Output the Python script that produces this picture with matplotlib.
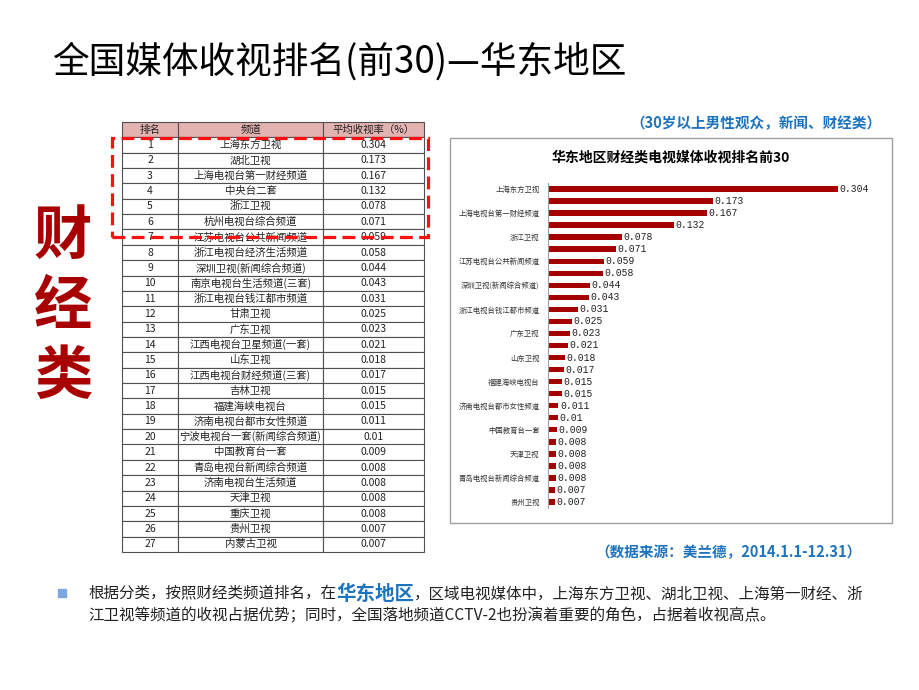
import matplotlib.pyplot as plt
from matplotlib.patches import Rectangle

plt.rcParams['font.family'] = ['Noto Sans CJK SC', 'DejaVu Sans']

# table data (rank, channel, rating)
ranks = list(range(1, 28))
channels = ['上海东方卫视', '湖北卫视', '上海电视台第一财经频道', '中央台二套', '浙江卫视',
            '杭州电视台综合频道', '江苏电视台公共新闻频道', '浙江电视台经济生活频道',
            '深圳卫视(新闻综合频道)', '南京电视台生活频道(三套)', '浙江电视台钱江都市频道',
            '甘肃卫视', '广东卫视', '江西电视台卫星频道(一套)', '山东卫视',
            '江西电视台财经频道(三套)', '吉林卫视', '福建海峡电视台', '济南电视台都市女性频道',
            '宁波电视台一套(新闻综合频道)', '中国教育台一套', '青岛电视台新闻综合频道',
            '济南电视台生活频道', '天津卫视', '重庆卫视', '贵州卫视', '内蒙古卫视']
ratings = ['0.304', '0.173', '0.167', '0.132', '0.078', '0.071', '0.059', '0.058', '0.044',
           '0.043', '0.031', '0.025', '0.023', '0.021', '0.018', '0.017', '0.015', '0.015',
           '0.011', '0.01', '0.009', '0.008', '0.008', '0.008', '0.008', '0.007', '0.007']
header = ['排名', '频道', '平均收视率（%）']

# bar chart data (order as in the chart)
chart_channels = ['上海东方卫视', '湖北卫视', '上海电视台第一财经频道', '中央台二套', '浙江卫视',
                  '杭州电视台综合频道', '江苏电视台公共新闻频道', '浙江电视台经济生活频道',
                  '深圳卫视(新闻综合频道)', '南京电视台生活频道(三套)', '浙江电视台钱江都市频道',
                  '甘肃卫视', '广东卫视', '江西电视台卫星频道(一套)', '山东卫视',
                  '江西电视台财经频道(三套)', '福建海峡电视台', '吉林卫视', '济南电视台都市女性频道',
                  '宁波电视台一套(新闻综合频道)', '中国教育台一套', '济南电视台生活频道',
                  '天津卫视', '重庆卫视', '青岛电视台新闻综合频道', '内蒙古卫视', '贵州卫视']
chart_values = [0.304, 0.173, 0.167, 0.132, 0.078, 0.071, 0.059, 0.058, 0.044, 0.043, 0.031,
                0.025, 0.023, 0.021, 0.018, 0.017, 0.015, 0.015, 0.011, 0.01, 0.009, 0.008,
                0.008, 0.008, 0.008, 0.007, 0.007]

W, H = 920, 690
blue = '#1E73BE'
darkred = '#A80000'

def fx(x):
    return x / W

def fy(y):
    return 1 - y / H

fig = plt.figure(figsize=(9.2, 6.9), dpi=100)

# slide title
fig.text(fx(52), fy(62), '全国媒体收视排名(前30)—华东地区', fontsize=26.4, va='center', ha='left')
fig.text(fx(882), fy(123), '（30岁以上男性观众，新闻、财经类）', fontsize=10.5, color=blue,
         weight='bold', ha='right', va='center')

# big red label
for c, y in zip('财经类', [237, 307, 377]):
    fig.text(fx(63), fy(y), c, fontsize=42, weight='bold', color=darkred, ha='center', va='center')

# table
tax = fig.add_axes([fx(122), fy(552), (424 - 122) / W, (552 - 122) / H])
tax.axis('off')
rows = [[str(r), ch, v] for r, ch, v in zip(ranks, channels, ratings)]
tbl = tax.table(cellText=rows, colLabels=header, colWidths=[56 / 302, 145 / 302, 101 / 302],
                cellLoc='center', bbox=[0, 0, 1, 1])
tbl.auto_set_font_size(False)
tbl.set_fontsize(7.5)
for (r, c), cell in tbl.get_celld().items():
    cell.set_edgecolor('#505050')
    cell.set_linewidth(0.8)
    cell.get_text().set_color('#222222')
    if r == 0:
        cell.set_facecolor('#E3B3B2')

fig.add_artist(Rectangle((fx(112), fy(237)), (428 - 112) / W, (237 - 138) / H, fill=False,
                         ec='#FF1010', lw=2.3, ls=(0, (4, 2)), transform=fig.transFigure))

# chart frame
fig.add_artist(Rectangle((fx(450), fy(523)), (892 - 450) / W, (523 - 138) / H, fill=False,
                         ec='#A0A0A0', lw=1, transform=fig.transFigure))
fig.text(fx(671), fy(158), '华东地区财经类电视媒体收视排名前30', fontsize=10, weight='bold',
         ha='center', va='center')

cax = fig.add_axes([fx(548), fy(508), (882 - 548) / W, (508 - 183) / H])
pos = list(range(len(chart_values)))
cax.barh(pos, chart_values, height=0.45, color='#A50000')
for i, v in enumerate(chart_values):
    cax.text(v + 0.0015, i, str(v), fontsize=7, va='center', ha='left',
             family='Liberation Mono', color='#222222')
cax.set_xlim(0, 0.35)
cax.set_ylim(len(chart_values) - 0.5, -0.5)
cax.set_yticks(pos[::2])
cax.set_yticklabels(chart_channels[::2], fontsize=5.3, color='#333333')
cax.tick_params(axis='y', length=0, pad=6)
cax.set_xticks([])
for s in ['top', 'right', 'bottom']:
    cax.spines[s].set_visible(False)
cax.spines['left'].set_color('#A0A0A0')
cax.patch.set_alpha(0)

fig.text(fx(862), fy(552), '（数据来源：美兰德，2014.1.1-12.31）', fontsize=10.5, color=blue,
         weight='bold', ha='right', va='center')

# bullet text
fig.add_artist(Rectangle((fx(58), fy(597)), 8 / W, 8 / H, color='#7EA6E0',
                         transform=fig.transFigure))
renderer = fig.canvas.get_renderer()
segments = [('根据分类，按照财经类频道排名，在', 11.2, '#222222', 'normal'),
            ('华东地区', 14, blue, 'bold'),
            ('，区域电视媒体中，上海东方卫视、湖北卫视、上海第一财经、浙', 11.2, '#222222', 'normal')]
x = 88
for s, size, col, wt in segments:
    t = fig.text(fx(x), fy(594), s, fontsize=size, color=col, weight=wt, va='center', ha='left')
    x = t.get_window_extent(renderer).x1
fig.text(fx(88), fy(616), '江卫视等频道的收视占据优势；同时，全国落地频道CCTV-2也扮演着重要的角色，占据着收视高点。',
         fontsize=11.2, color='#222222', va='center', ha='left')

fig.savefig('out.png', dpi=100)
